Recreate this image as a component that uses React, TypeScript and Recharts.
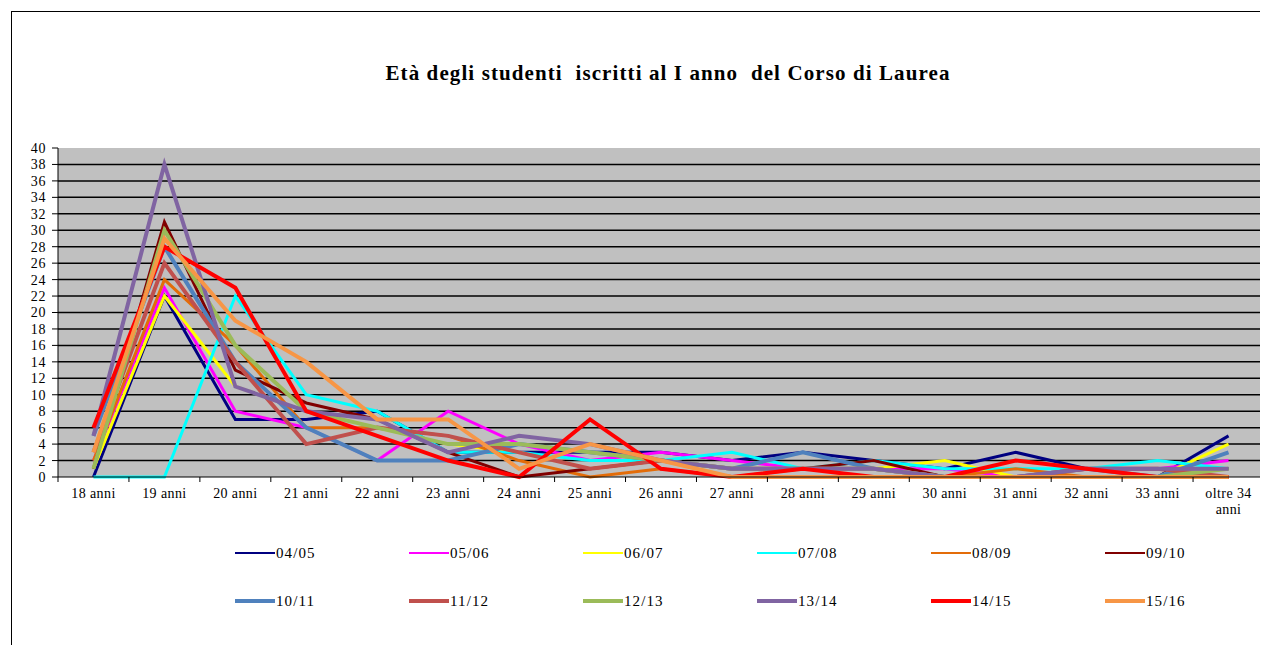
import React from "react";
import { LineChart, Line, XAxis, YAxis, CartesianGrid } from "recharts";

// categorie (fasce d'età) e valori
const categories = [
  "18 anni", "19 anni", "20 anni", "21 anni", "22 anni", "23 anni", "24 anni", "25 anni", "26 anni",
  "27 anni", "28 anni", "29 anni", "30 anni", "31 anni", "32 anni", "33 anni", "oltre 34 anni",
];

const a0405 = [0, 22, 7, 7, 8, 3, 3, 3, 3, 2, 3, 2, 1, 3, 1, 0, 5];
const a0506 = [2, 23, 8, 6, 2, 8, 4, 2, 3, 2, 1, 1, 1, 0, 1, 1, 2];
const a0607 = [1, 22, 11, 8, 6, 4, 3, 1, 2, 0, 1, 1, 2, 0, 0, 0, 4];
const a0708 = [0, 0, 22, 10, 8, 3, 3, 2, 2, 3, 1, 2, 1, 1, 1, 2, 1];
const a0809 = [2, 24, 16, 6, 6, 5, 2, 0, 1, 0, 1, 1, 0, 1, 0, 0, 0];
const a0910 = [1, 31, 13, 9, 7, 3, 0, 1, 2, 1, 1, 2, 0, 0, 1, 1, 1];
const a1011 = [5, 28, 14, 6, 2, 2, 4, 3, 2, 1, 3, 1, 0, 0, 1, 0, 3];
const a1112 = [3, 26, 14, 4, 6, 5, 3, 1, 2, 1, 1, 1, 0, 0, 1, 1, 0];
const a1213 = [1, 30, 16, 8, 6, 4, 4, 3, 2, 1, 1, 1, 0, 0, 0, 0, 1];
const a1314 = [5, 38, 11, 8, 7, 3, 5, 4, 2, 1, 1, 1, 0, 0, 1, 1, 1];
const a1415 = [6, 28, 23, 8, 5, 2, 0, 7, 1, 0, 1, 0, 0, 2, 1, 0, 0];
const a1516 = [3, 29, 19, 14, 7, 7, 1, 4, 2, 0, 0, 0, 0, 0, 0, 0, 0];

const yTicks = [0, 2, 4, 6, 8, 10, 12, 14, 16, 18, 20, 22, 24, 26, 28, 30, 32, 34, 36, 38, 40];
const gridValues = [2, 4, 6, 8, 10, 12, 14, 16, 18, 20, 22, 24, 26, 28, 30, 32, 34, 36, 38];

const series = [
  { name: "04/05", values: a0405, color: "#000080", width: 3 },
  { name: "05/06", values: a0506, color: "#FF00FF", width: 3 },
  { name: "06/07", values: a0607, color: "#FFFF00", width: 3 },
  { name: "07/08", values: a0708, color: "#00FFFF", width: 3 },
  { name: "08/09", values: a0809, color: "#E36C09", width: 3 },
  { name: "09/10", values: a0910, color: "#800000", width: 3 },
  { name: "10/11", values: a1011, color: "#4F81BD", width: 4 },
  { name: "11/12", values: a1112, color: "#C0504D", width: 4 },
  { name: "12/13", values: a1213, color: "#9BBB59", width: 4 },
  { name: "13/14", values: a1314, color: "#8064A2", width: 4 },
  { name: "14/15", values: a1415, color: "#FF0000", width: 4 },
  { name: "15/16", values: a1516, color: "#F79646", width: 4 },
];

const chartData = categories.map((cat, i) => {
  const row: Record<string, string | number> = { cat };
  series.forEach((s) => (row[s.name] = s.values[i]));
  return row;
});

const FONT = "Liberation Serif, Tinos, Times New Roman, DejaVu Serif, serif";
const HALF = 35.47; // metà della larghezza di una categoria

// etichetta asse X con tacche tra le categorie (stile Excel)
const XTick = (props: any) => {
  const { x, y, payload, index } = props;
  const label: string = payload.value;
  const lines = label === "oltre 34 anni" ? ["oltre 34", "anni"] : [label];
  const isLast = index === categories.length - 1;
  return (
    <g>
      <line x1={x - HALF} x2={x - HALF} y1={y} y2={y + 5} stroke="#000" />
      {isLast && <line x1={x + HALF} x2={x + HALF} y1={y} y2={y + 5} stroke="#000" />}
      <text
        x={x}
        y={y + 21}
        textAnchor="middle"
        style={{ fontFamily: FONT, letterSpacing: 0.4 }}
        fontSize={14}
        fill="#000"
      >
        {lines.map((l, i) => (
          <tspan key={i} x={x} dy={i === 0 ? 0 : 16}>
            {l}
          </tspan>
        ))}
      </text>
    </g>
  );
};

export default function App() {
  return (
    <div style={{ position: "relative", width: 1260, height: 637, background: "#fff", fontFamily: FONT }}>
      <div
        style={{
          position: "absolute",
          left: 3,
          top: 3,
          width: 1257,
          height: 634,
          borderTop: "1px solid #000",
          borderLeft: "1px solid #000",
        }}
      />
      <div
        style={{
          position: "absolute",
          left: 0,
          width: 1320,
          top: 53,
          textAlign: "center",
          fontWeight: "bold",
          fontSize: 21,
          letterSpacing: 1.1,
          color: "#000",
        }}
      >
        Età degli studenti&nbsp; iscritti al I anno&nbsp; del Corso di Laurea
      </div>
      <div style={{ position: "absolute", left: 0, top: 0 }}>
        <LineChart
          width={1260}
          height={637}
          data={chartData}
          margin={{ top: 140, right: 4, left: 10, bottom: 128 }}
        >
          <CartesianGrid
            vertical={false}
            horizontalValues={gridValues}
            fill="#C0C0C0"
            fillOpacity={1}
            stroke="#000"
            strokeWidth={1.5}
          />
          <XAxis
            dataKey="cat"
            interval={0}
            padding={{ left: HALF, right: HALF }}
            axisLine={{ stroke: "#000" }}
            tickLine={false}
            tickSize={0}
            tickMargin={0}
            height={40}
            tick={<XTick />}
          />
          <YAxis
            domain={[0, 40]}
            ticks={yTicks}
            interval={0}
            width={40}
            axisLine={{ stroke: "#000" }}
            tickLine={{ stroke: "#000" }}
            tickSize={6}
            tickMargin={6}
            tick={{ fontSize: 14, fill: "#000", style: { fontFamily: FONT, letterSpacing: 0.6 } }}
          />
          {series.map((s) => (
            <Line
              key={s.name}
              type="linear"
              dataKey={s.name}
              stroke={s.color}
              strokeWidth={s.width}
              dot={false}
              activeDot={false}
              isAnimationActive={false}
            />
          ))}
        </LineChart>
      </div>
      {series.map((s, i) => {
        const col = i % 6;
        const row = Math.floor(i / 6);
        return (
          <div
            key={s.name}
            style={{
              position: "absolute",
              left: 227 + col * 174,
              top: 535 + row * 48,
              height: 20,
              display: "flex",
              alignItems: "center",
              fontSize: 15,
              letterSpacing: 1.1,
              color: "#000",
            }}
          >
            <span
              style={{
                display: "inline-block",
                width: 40,
                height: row === 0 ? 2 : 4,
                background: s.color,
                marginRight: 1,
              }}
            />
            {s.name}
          </div>
        );
      })}
    </div>
  );
}
